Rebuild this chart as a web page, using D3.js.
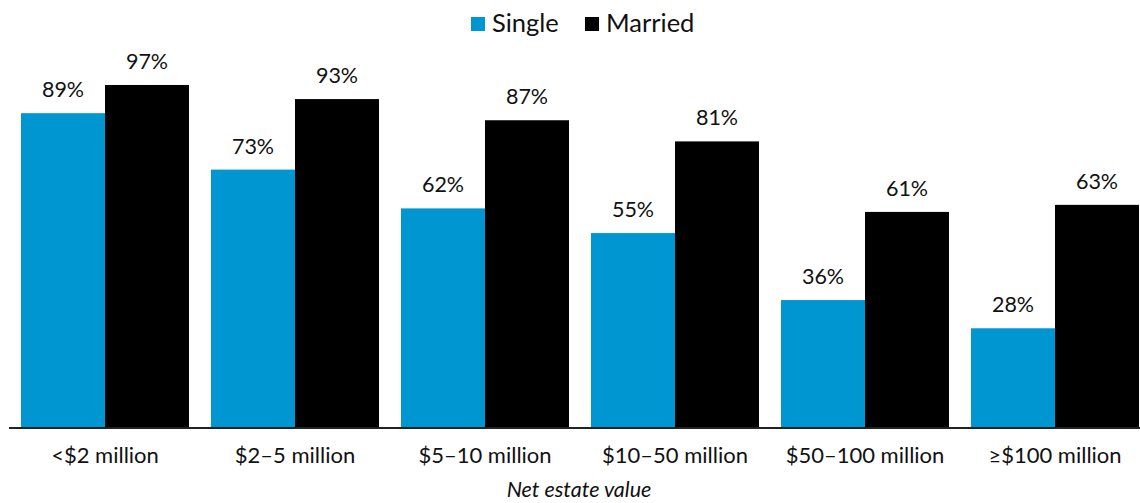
<!DOCTYPE html>
<html>
<head>
<meta charset="utf-8">
<script src="https://cdn.jsdelivr.net/npm/d3@7"></script>
<style>
  body { margin: 0; background: #fff; }
  svg { display: block; font-family: Lato, "Open Sans", sans-serif; }
</style>
</head>
<body>
<svg id="chart" width="1140" height="503"></svg>
<script>
const categories = ["<$2 million", "$2–5 million", "$5–10 million", "$10–50 million", "$50–100 million", "≥$100 million"];
const seriesNames = ["Single", "Married"];
const single = [89, 73, 62, 55, 36, 28];
const married = [97, 93, 87, 81, 61, 63];
const colors = { Single: "#0096d2", Married: "#000000" };

const rows = categories.map((c, i) => ({ cat: c, Single: single[i], Married: married[i] }));

const svg = d3.select("#chart");
const baseline = 427;

const x = d3.scaleBand().domain(categories).range([10, 1150]).paddingInner(22 / 190).paddingOuter(11 / 190);
const xs = d3.scaleBand().domain(seriesNames).range([0, x.bandwidth()]);
const y = d3.scaleLinear().domain([0, 100]).range([baseline, baseline - 352.6]);

const groups = svg.selectAll(".grp")
  .data(rows)
  .enter()
  .append("g")
  .attr("class", "grp")
  .attr("transform", d => `translate(${x(d.cat)},0)`);

groups.selectAll("rect")
  .data(d => seriesNames.map(s => ({ s, v: d[s] })))
  .enter()
  .append("rect")
  .attr("x", d => xs(d.s))
  .attr("y", d => y(d.v))
  .attr("width", xs.bandwidth())
  .attr("height", d => baseline - y(d.v))
  .attr("fill", d => colors[d.s]);

groups.selectAll("text.val")
  .data(d => seriesNames.map(s => ({ s, v: d[s] })))
  .enter()
  .append("text")
  .attr("class", "val")
  .attr("x", d => xs(d.s) + xs.bandwidth() / 2)
  .attr("y", d => y(d.v) - 16)
  .attr("text-anchor", "middle")
  .attr("font-size", "21.5px")
  .attr("fill", "#111")
  .text(d => d.v + "%");

// axis line + labels
svg.append("line")
  .attr("x1", 9).attr("x2", 1140)
  .attr("y1", baseline + 1).attr("y2", baseline + 1)
  .attr("stroke", "#222").attr("stroke-width", 2);

const axis = svg.append("g")
  .attr("transform", `translate(0,${baseline})`)
  .call(d3.axisBottom(x).tickSize(0).tickPadding(20));
axis.select(".domain").remove();
axis.selectAll("text")
  .attr("font-family", "Lato, 'Open Sans', sans-serif")
  .attr("font-size", "22px")
  .attr("fill", "#111");

svg.append("text")
  .attr("x", 579)
  .attr("y", 497)
  .attr("text-anchor", "middle")
  .attr("font-size", "21.5px")
  .attr("font-style", "italic")
  .attr("fill", "#111")
  .text("Net estate value");

// legend
const legend = svg.append("g");
const legendX = [471, 585];
seriesNames.forEach((s, i) => {
  legend.append("rect")
    .attr("x", legendX[i]).attr("y", 17)
    .attr("width", 14).attr("height", 14)
    .attr("fill", colors[s]);
  legend.append("text")
    .attr("x", legendX[i] + 21).attr("y", 32)
    .attr("font-size", "25.5px")
    .attr("fill", "#111")
    .text(s);
});
</script>
</body>
</html>
